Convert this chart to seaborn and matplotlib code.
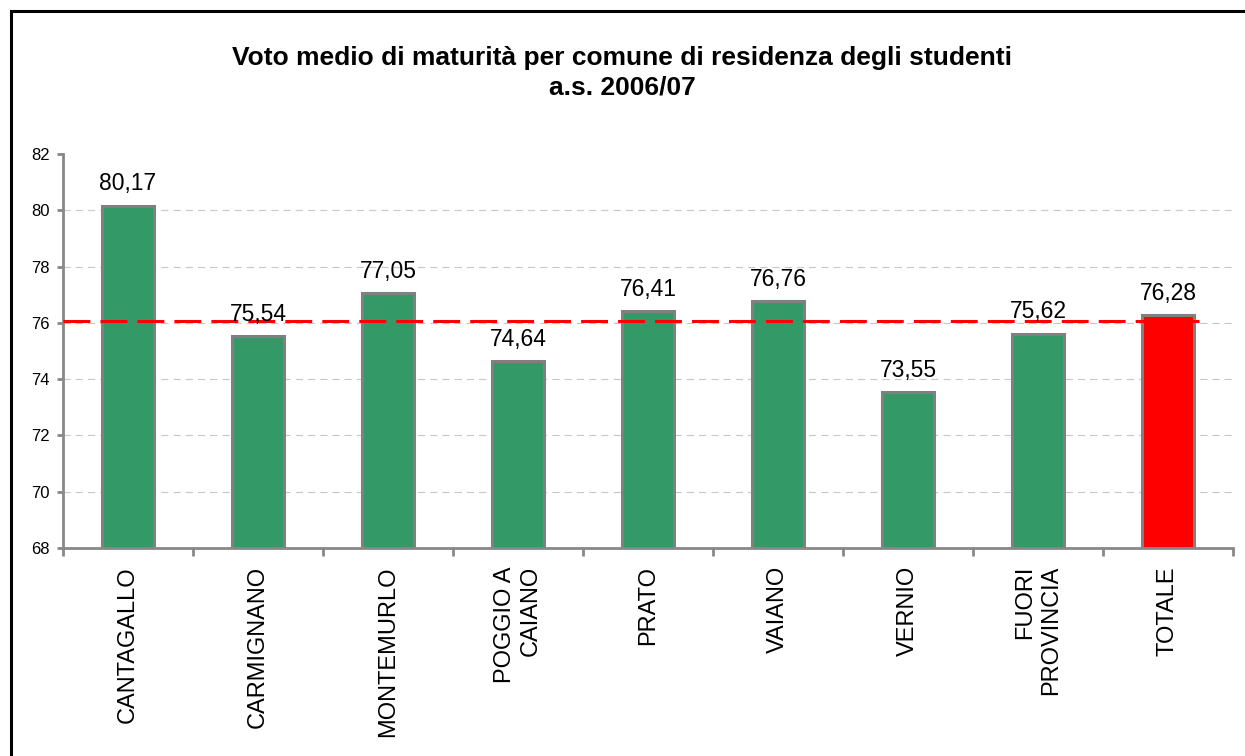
import matplotlib
matplotlib.use("Agg")
import matplotlib.pyplot as plt
import seaborn as sns
from matplotlib.patches import Rectangle

# Data
comuni = ["CANTAGALLO", "CARMIGNANO", "MONTEMURLO", "POGGIO A\nCAIANO", "PRATO",
          "VAIANO", "VERNIO", "FUORI\nPROVINCIA", "TOTALE"]
voti = [80.17, 75.54, 77.05, 74.64, 76.41, 76.76, 73.55, 75.62, 76.28]
riferimento = 76.07
colori = ["#339966"] * 8 + ["#FF0000"]

sns.set_theme(style="white")
plt.rcParams["font.family"] = ["Liberation Sans", "DejaVu Sans"]
plt.rcParams["text.color"] = "black"

fig = plt.figure(figsize=(12.45, 7.56), dpi=100)
ax = fig.add_axes([63 / 1245, 1 - 548 / 756, (1233 - 63) / 1245, (548 - 154) / 756])

sns.barplot(x=comuni, y=voti, hue=comuni, palette=colori, legend=False,
            width=0.4, edgecolor="#808080", linewidth=2.2, saturation=1, ax=ax)

ax.set_xlim(-0.5, len(comuni) - 0.5)
ax.set_ylim(68, 82)
ax.set_yticks(range(68, 83, 2))

# Grid (no line at the top of the scale)
ax.yaxis.grid(True, color="#c8c8c8", linewidth=0.8, linestyle=(0, (6.5, 4.5)))
ax.get_ygridlines()[-1].set_visible(False)
ax.set_axisbelow(True)

# Reference line
ax.hlines(riferimento, -0.5, 8.28, colors="#FF0000", linewidth=2.2,
          linestyles=(0, (8.8, 3.3)), zorder=3)

# Value labels
for i, v in enumerate(voti):
    ax.annotate(f"{v:.2f}".replace(".", ","), (i, v), xytext=(0, 11),
                textcoords="offset points", ha="center", va="baseline",
                fontsize=16.5, color="black", zorder=4)

# Spines and ticks
for s in ["top", "right"]:
    ax.spines[s].set_visible(False)
for s in ["left", "bottom"]:
    ax.spines[s].set_color("#888888")
    ax.spines[s].set_linewidth(2)

ax.set_xticks([i - 0.5 for i in range(len(comuni) + 1)], minor=True)
ax.tick_params(axis="x", which="minor", direction="out", length=6, width=2,
               color="#888888", bottom=True)
ax.tick_params(axis="x", which="major", length=0, pad=13)
ax.tick_params(axis="y", direction="out", length=4.5, width=2, color="#888888",
               left=True, pad=5, labelsize=12, labelcolor="black")
ax.set_xticks(range(len(comuni)))
ax.set_xticklabels(comuni, rotation=90, fontsize=17, color="black",
                   ha="center", va="top", multialignment="right")
ax.set_xlabel("")
ax.set_ylabel("")

# Title
fig.text(0.5, 1 - 46 / 756,
         "Voto medio di maturità per comune di residenza degli studenti\na.s. 2006/07",
         ha="center", va="top", fontsize=19, fontweight="bold", linespacing=1.3,
         color="black")

# Frame (top and left edges)
fig.patches.append(Rectangle((11 / 1245, -0.05), 1.2, 1 - 11 / 756 + 0.05,
                             transform=fig.transFigure, fill=False,
                             edgecolor="black", linewidth=2.2))

fig.savefig("out.png", dpi=100, facecolor="white")
